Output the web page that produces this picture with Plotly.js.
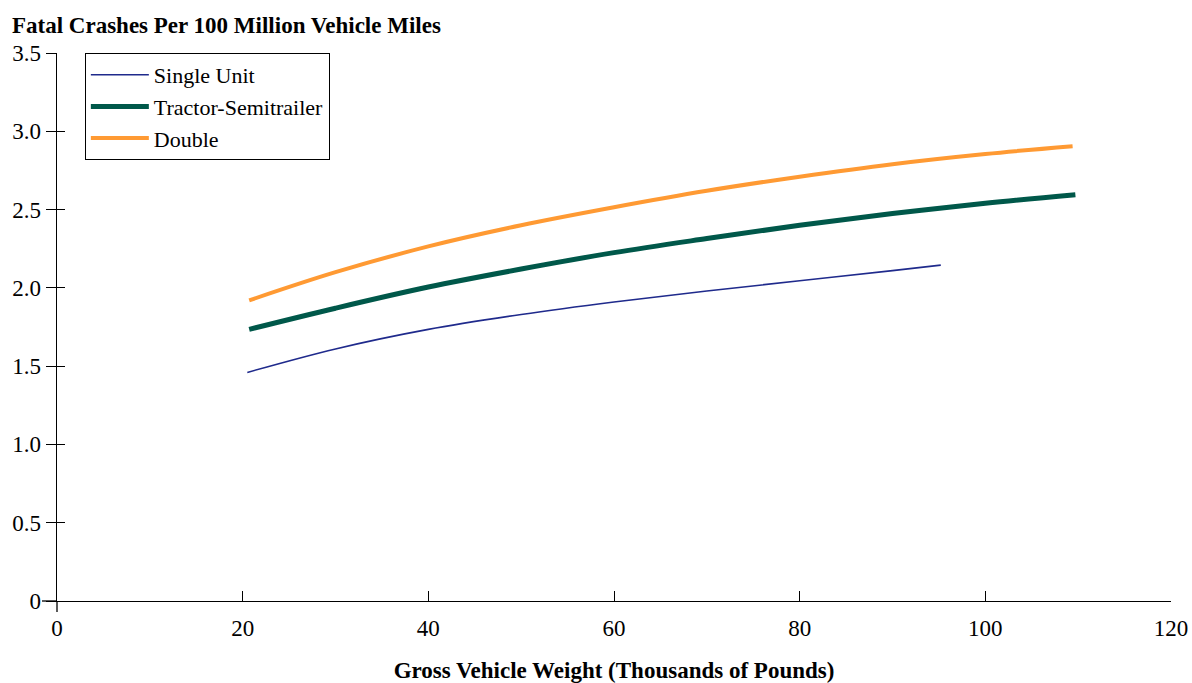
<!DOCTYPE html>
<html>
<head>
<meta charset="utf-8">
<script src="https://cdn.plot.ly/plotly-3.0.1.min.js"></script>
<style>html,body{margin:0;padding:0;background:#fff;}#chart{width:1192px;height:683px;}</style>
</head>
<body>
<div id="chart"></div>
<script>
const singleX = [20.5, 30, 40, 50, 60, 70, 80, 90, 95.2];
const singleY = [1.46, 1.61, 1.735, 1.83, 1.91, 1.98, 2.045, 2.11, 2.145];
const tractorX = [20.7, 30, 40, 50, 60, 70, 80, 90, 100, 109.7];
const tractorY = [1.735, 1.87, 2.005, 2.12, 2.225, 2.315, 2.40, 2.475, 2.54, 2.595];
const doubleX = [20.7, 30, 40, 50, 60, 70, 80, 90, 100, 109.4];
const doubleY = [1.92, 2.10, 2.265, 2.40, 2.515, 2.62, 2.71, 2.79, 2.855, 2.905];
const seriesNames = ["Single Unit", "Tractor-Semitrailer", "Double"];
const yTickVals = [0, 0.5, 1.0, 1.5, 2.0, 2.5, 3.0, 3.5];
const yTickText = ["0", "0.5", "1.0", "1.5", "2.0", "2.5", "3.0", "3.5"];
const xTickVals = [0, 20, 40, 60, 80, 100, 120];

const FONT = "Liberation Serif, Times New Roman, serif";
const traces = [
  {x: singleX, y: singleY, name: seriesNames[0], mode: "lines", line: {color: "#1f2a8c", width: 1.6, shape: "spline"}},
  {x: tractorX, y: tractorY, name: seriesNames[1], mode: "lines", line: {color: "#00584a", width: 5, shape: "spline"}},
  {x: doubleX, y: doubleY, name: seriesNames[2], mode: "lines", line: {color: "#ff9a33", width: 4, shape: "spline"}}
];
const layout = {
  width: 1192, height: 683,
  margin: {l: 57, r: 21, t: 53, b: 82},
  paper_bgcolor: "#fff", plot_bgcolor: "#fff",
  font: {family: FONT, size: 23, color: "#000"},
  title: {text: "<b>Fatal Crashes Per 100 Million Vehicle Miles</b>", x: 12/1192, xref: "container", xanchor: "left", y: 1 - 25/683, yref: "container", yanchor: "middle", font: {family: FONT, size: 23, color: "#000"}},
  showlegend: true,
  legend: {x: 0.025, y: 1, xanchor: "left", yanchor: "top", bordercolor: "#000", borderwidth: 1, bgcolor: "#fff", font: {family: FONT, size: 22}, tracegroupgap: 0, itemwidth: 58},
  xaxis: {range: [0, 120], tickvals: xTickVals, ticks: "inside", ticklen: 10, tickcolor: "#000", showline: true, linecolor: "#000", linewidth: 1.3, showgrid: false, zeroline: false, tickfont: {size: 23}, ticklabelstandoff: 6,
    title: {text: "<b>Gross Vehicle Weight (Thousands of Pounds)</b>", standoff: 22, font: {size: 23}}},
  yaxis: {range: [0, 3.5], tickvals: yTickVals, ticktext: yTickText, ticks: "outside", ticklen: 10, tickcolor: "#000", showline: true, linecolor: "#000", linewidth: 1.3, showgrid: false, zeroline: false, tickfont: {size: 23}},
  yaxis2: {range: [0, 3.5], overlaying: "y", side: "left", tickvals: yTickVals, ticks: "inside", ticklen: 8, tickcolor: "#000", showticklabels: false, showline: false, showgrid: false, zeroline: false},
  shapes: [
    {type: "line", xref: "paper", yref: "paper", x0: -15/1114, x1: 0, y0: 0, y1: 0, line: {color: "#000", width: 1.3}},
    {type: "line", xref: "paper", yref: "paper", x0: 0, x1: 0, y0: -11/548, y1: 0, line: {color: "#000", width: 1.3}}
  ]
};
traces.push({x: [0], y: [0], yaxis: "y2", mode: "markers", marker: {opacity: 0}, showlegend: false, hoverinfo: "skip"});
Plotly.newPlot("chart", traces, layout, {staticPlot: true});
</script>
</body>
</html>
